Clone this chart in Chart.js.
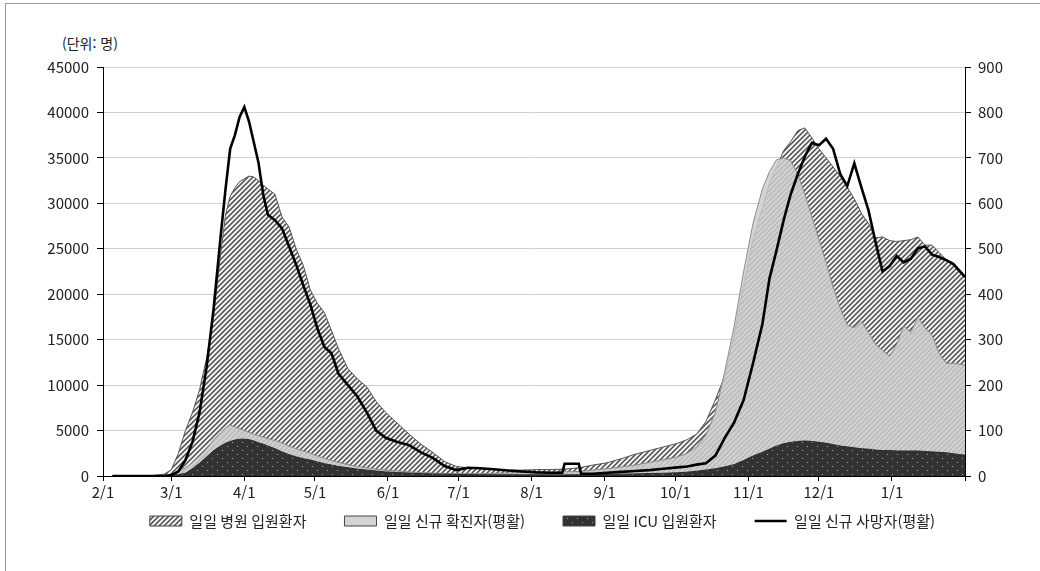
<!DOCTYPE html>
<html lang="ko">
<head>
<meta charset="UTF-8">
<meta name="viewport" content="width=device-width, initial-scale=1.0">
<title>일일 입원환자 · 확진자 · 사망자 추이</title>
<script src="https://cdn.jsdelivr.net/npm/chart.js@4.4.1/dist/chart.umd.min.js"></script>
<style>
    html, body {
        margin: 0;
        padding: 0;
        background: #fff;
    }
    body {
        width: 1040px;
        height: 571px;
        position: relative;
        overflow: hidden;
        font-family: "Noto Sans CJK KR", sans-serif;
    }
    .frame {
        position: absolute;
        left: 5px;
        top: 3px;
        width: 1100px;
        height: 700px;
        border: 1px solid #9a9a9a;
    }
    .unit {
        position: absolute;
        left: 62px;
        top: 36px;
        font-size: 14px;
        line-height: 1;
        color: #222;
    }
    #chart {
        position: absolute;
        left: 0;
        top: 0;
    }
</style>
</head>
<body>
<div class="frame"></div>
<div class="unit">(단위: 명)</div>
<canvas id="chart" width="1040" height="571"></canvas>

<script>
    // day index counted from 2/1 (2020 is a leap year)
    const days = [4, 10, 16, 21, 26, 29, 32, 35, 38, 41, 44, 47, 50,
        52, 54, 56, 58, 60, 62, 64, 66, 68, 70,
        73, 76, 79, 82, 85, 88, 91, 94, 97, 100,
        104, 108, 112, 116, 120, 125, 130, 135, 140, 145, 150, 155, 160,
        166, 172, 178, 184, 190, 195, 196, 202, 203,
        208, 214, 220, 226, 232, 238, 244,
        248, 252, 256, 260, 264, 268, 272, 276, 280,
        283, 286, 289, 292, 295, 298, 301, 304, 307, 310,
        313, 316, 319, 322, 325, 328, 331, 334, 337, 340,
        343, 346, 349, 352, 355, 358, 361, 364, 366];

    const hospital = [0, 0, 0, 50, 200, 700, 2500, 5000, 7000, 9500, 13000, 17800, 24500,
        28700, 30800, 31700, 32400, 32700, 33000, 32900, 32500, 32000, 31600,
        31000, 28500, 27400, 25000, 23200, 20500, 19000, 18000, 16000, 14000,
        11800, 10700, 9800, 8200, 7000, 5800, 4600, 3500, 2600, 1600, 1050, 900, 820,
        700, 650, 650, 700, 720, 750, 760, 900, 950,
        1200, 1450, 1900, 2400, 2800, 3200, 3600,
        4000, 4600, 6000, 8400, 11000, 15500, 21000, 26000, 29500,
        32200, 34000, 35800, 36800, 38000, 38300, 37200, 36000, 35000, 34000,
        33000, 31800, 30500, 28900, 27800, 26200, 26300, 25900, 25800, 25900,
        26000, 26300, 25400, 25400, 24600, 23800, 23200, 22300, 21800];

    const confirmed = [0, 0, 0, 0, 50, 200, 500, 900, 1500, 2200, 3000, 4000, 4800,
        5300, 5600, 5400, 5200, 5000, 4800, 4600, 4450, 4300, 4100,
        3900, 3650, 3300, 3000, 2750, 2500, 2200, 1950, 1700, 1500,
        1250, 1050, 900, 750, 650, 550, 450, 380, 320, 280, 260, 250, 260,
        300, 330, 370, 400, 420, 450, 460, 500, 520,
        650, 800, 1000, 1200, 1500, 1800, 2100,
        2500, 3200, 4500, 7000, 11500, 16500, 22500, 27800, 31600,
        33500, 34800, 35000, 34700, 33200, 31000, 28500, 26000, 23500, 20800,
        18500, 16600, 16300, 17000, 15800, 14500, 13800, 13200, 14500, 16500,
        15800, 17500, 16300, 15500, 13500, 12400, 12400, 12300, 12200];

    const icu = [0, 0, 0, 0, 0, 50, 150, 300, 800, 1400, 2100, 2800, 3300,
        3600, 3800, 3950, 4050, 4050, 4000, 3850, 3650, 3500, 3300,
        3000, 2650, 2350, 2100, 1900, 1750, 1550, 1350, 1200, 1050,
        900, 750, 650, 550, 450, 380, 320, 270, 230, 200, 180, 160, 150,
        140, 130, 130, 130, 130, 130, 130, 140, 140,
        160, 180, 200, 230, 270, 300, 350,
        420, 520, 650, 800, 1000, 1250, 1700, 2200, 2600,
        2950, 3300, 3550, 3700, 3800, 3850, 3800, 3700, 3600, 3450,
        3300, 3200, 3100, 3000, 2950, 2850, 2800, 2800, 2750, 2750,
        2750, 2750, 2700, 2650, 2600, 2550, 2450, 2350, 2300];

    const deaths = [0, 0, 0, 0, 0, 2, 10, 35, 75, 140, 240, 370, 530,
        630, 720, 750, 790, 812, 780, 735, 690, 620, 575,
        563, 545, 505, 465, 420, 378, 325, 284, 270, 225,
        200, 175, 140, 100, 84, 75, 68, 52, 40, 22, 13, 18, 17,
        15, 12, 10, 8, 7, 7, 27, 27, 5,
        5, 7, 9, 11, 13, 16, 19,
        21, 25, 28, 45, 84, 118, 167, 248, 335,
        435, 497, 563, 620, 664, 703, 733, 728, 742, 720,
        665, 638, 688, 635, 585, 515, 450, 462, 484, 470,
        478, 501, 505, 487, 482, 475, 467, 450, 438];

    const monthTicks = [0, 29, 60, 90, 121, 151, 182, 213, 243, 274, 304, 335, 366];
    const monthLabels = ['2/1', '3/1', '4/1', '5/1', '6/1', '7/1', '8/1', '9/1', '10/1', '11/1', '12/1', '1/1', ''];
    const seriesNames = ['일일 병원 입원환자', '일일 신규 확진자(평활)', '일일 ICU 입원환자', '일일 신규 사망자(평활)'];

    const FONT = '"Noto Sans CJK KR", sans-serif';
    const FSIZE = 15;
    const LEGEND_PAD = 38;
    const canvas = document.getElementById('chart');
    const ctx = canvas.getContext('2d');

    // diagonal hatch for hospital patients
    function makeHatch() {
        const c = document.createElement('canvas');
        c.width = 5;
        c.height = 5;
        const g = c.getContext('2d');
        g.fillStyle = '#f2f2f2';
        g.fillRect(0, 0, 5, 5);
        g.strokeStyle = '#4a4a4a';
        g.lineWidth = 1.5;
        g.beginPath();
        g.moveTo(-1, 6); g.lineTo(6, -1);
        g.moveTo(-1, 1); g.lineTo(1, -1);
        g.moveTo(4, 6); g.lineTo(6, 4);
        g.stroke();
        return ctx.createPattern(c, 'repeat');
    }

    // dark fill with small light dots for ICU
    function makeDots() {
        const c = document.createElement('canvas');
        c.width = 10;
        c.height = 8;
        const g = c.getContext('2d');
        g.fillStyle = '#323232';
        g.fillRect(0, 0, 10, 8);
        g.fillStyle = '#a8a8a8';
        g.fillRect(2, 2, 1, 1);
        g.fillRect(7, 6, 1, 1);
        return ctx.createPattern(c, 'repeat');
    }

    // move the legend row up so it sits just under the month labels
    const legendPlace = {
        id: 'legendPlace',
        afterLayout(chart) {
            const lg = chart.legend;
            const h = lg.height;
            lg.top = 521 - LEGEND_PAD - FSIZE / 2;
            lg.bottom = lg.top + h;
        }
    };

    const hatch = makeHatch();
    const dots = makeDots();
    const pts = vals => days.map((d, i) => ({ x: d, y: vals[i] }));

    new Chart(ctx, {
        type: 'line',
        data: {
            datasets: [
                {
                    label: seriesNames[0],
                    data: pts(hospital),
                    yAxisID: 'y',
                    fill: 'origin',
                    backgroundColor: hatch,
                    borderColor: '#555',
                    borderWidth: 1,
                    pointRadius: 0,
                    order: 3
                },
                {
                    label: seriesNames[1],
                    data: pts(confirmed),
                    yAxisID: 'y',
                    fill: 'origin',
                    backgroundColor: 'rgba(204, 204, 204, 0.85)',
                    borderColor: '#8c8c8c',
                    borderWidth: 1,
                    pointRadius: 0,
                    order: 2
                },
                {
                    label: seriesNames[2],
                    data: pts(icu),
                    yAxisID: 'y',
                    fill: 'origin',
                    backgroundColor: dots,
                    borderColor: '#2a2a2a',
                    borderWidth: 1,
                    pointRadius: 0,
                    order: 1
                },
                {
                    label: seriesNames[3],
                    data: pts(deaths),
                    yAxisID: 'y1',
                    fill: false,
                    borderColor: '#000',
                    borderWidth: 2.6,
                    pointRadius: 0,
                    order: 0
                }
            ]
        },
        options: {
            responsive: false,
            animation: false,
            devicePixelRatio: 1,
            layout: { padding: { top: 67, left: 45, right: 0, bottom: 5 } },
            elements: { line: { tension: 0 } },
            scales: {
                x: {
                    type: 'linear',
                    min: 0,
                    max: 366,
                    afterBuildTicks: scale => {
                        scale.ticks = monthTicks.map(v => ({ value: v }));
                    },
                    afterFit: scale => { scale.height = 27; },
                    ticks: {
                        autoSkip: false,
                        maxRotation: 0,
                        padding: 2,
                        color: '#222',
                        font: { family: FONT, size: FSIZE },
                        callback: v => monthLabels[monthTicks.indexOf(v)]
                    },
                    grid: { drawOnChartArea: false, tickLength: 5, tickColor: '#000' },
                    border: { color: '#000', width: 1 }
                },
                y: {
                    position: 'left',
                    min: 0,
                    max: 45000,
                    afterFit: scale => { scale.width = 58; },
                    ticks: {
                        stepSize: 5000,
                        padding: 8,
                        color: '#222',
                        font: { family: FONT, size: FSIZE },
                        callback: v => String(v)
                    },
                    grid: { color: '#d0d0d0', lineWidth: 1, tickLength: 6, tickColor: '#000' },
                    border: { color: '#000', width: 1 }
                },
                y1: {
                    position: 'right',
                    min: 0,
                    max: 900,
                    afterFit: scale => { scale.width = 75; },
                    ticks: {
                        stepSize: 100,
                        padding: 7,
                        color: '#222',
                        font: { family: FONT, size: FSIZE },
                        callback: v => String(v)
                    },
                    grid: { drawOnChartArea: false, tickLength: 6, tickColor: '#000' },
                    border: { color: '#000', width: 1 }
                }
            },
            plugins: {
                tooltip: { enabled: false },
                legend: {
                    position: 'bottom',
                    labels: {
                        color: '#222',
                        font: { family: FONT, size: FSIZE },
                        usePointStyle: true,
                        pointStyleWidth: 32,
                        boxHeight: 10,
                        padding: LEGEND_PAD,
                        generateLabels: chart => chart.data.datasets.map((ds, i) => ({
                            text: ds.label,
                            datasetIndex: i,
                            fillStyle: i === 3 ? '#000' : ds.backgroundColor,
                            strokeStyle: i === 3 ? '#000' : '#444',
                            lineWidth: i === 3 ? 2.6 : 1,
                            pointStyle: i === 3 ? 'line' : 'rect',
                            fontColor: '#222',
                            hidden: false
                        }))
                    }
                }
            }
        },
        plugins: [legendPlace]
    });
</script>
</body>
</html>
